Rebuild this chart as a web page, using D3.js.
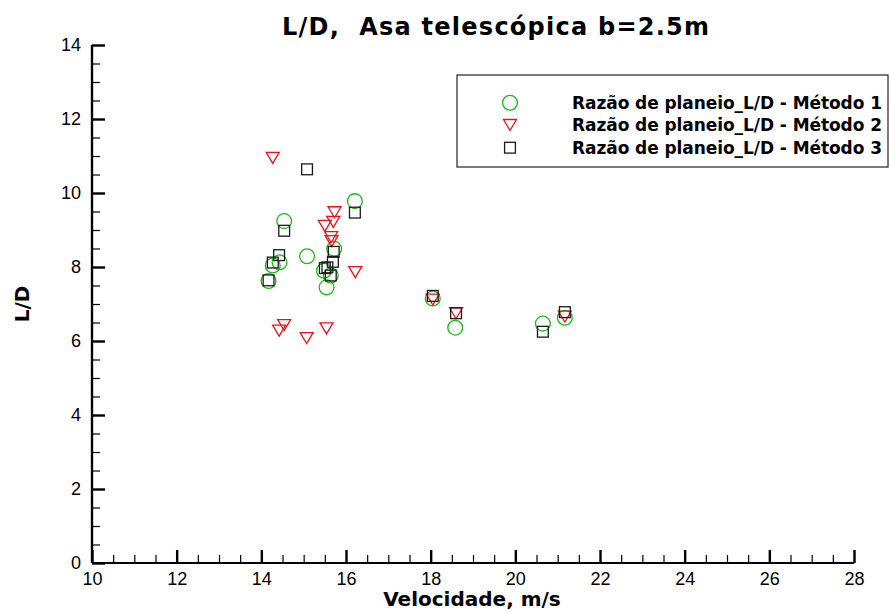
<!DOCTYPE html>
<html>
<head>
<meta charset="utf-8">
<script src="https://cdn.jsdelivr.net/npm/d3@7/dist/d3.min.js"></script>
<style>
  html, body { margin: 0; padding: 0; background: #fff; }
  svg { display: block; }
</style>
</head>
<body>
<svg id="chart" width="890" height="613"></svg>
<script>
// Lift-to-drag ratio vs. airspeed, three estimation methods
const velocityM1 = [14.17, 14.27, 14.43, 14.54, 15.08, 15.48, 15.54, 15.64, 15.72, 16.21, 18.05, 18.58, 20.65, 21.17];
const ldM1       = [7.62, 8.04, 8.13, 9.24, 8.29, 7.90, 7.45, 7.77, 8.49, 9.78, 7.15, 6.36, 6.47, 6.63];

const velocityM2 = [14.27, 14.54, 14.42, 15.07, 15.54, 15.50, 15.73, 15.70, 15.65, 15.66, 16.22, 18.05, 18.60, 21.17];
const ldM2       = [10.95, 6.43, 6.28, 6.08, 6.34, 9.11, 9.48, 9.22, 8.81, 8.70, 7.86, 7.12, 6.75, 6.66];

const velocityM3 = [14.17, 14.27, 14.42, 14.54, 15.08, 15.50, 15.56, 15.64, 15.69, 15.71, 16.21, 18.05, 18.60, 20.65, 21.17];
const ldM3       = [7.64, 8.12, 8.32, 8.98, 10.64, 7.97, 7.99, 7.77, 8.14, 8.41, 9.47, 7.22, 6.75, 6.25, 6.78];

const seriesNames = ["Razão de planeio_L/D - Método 1", "Razão de planeio_L/D - Método 2", "Razão de planeio_L/D - Método 3"];
const xTicks = [10, 12, 14, 16, 18, 20, 22, 24, 26, 28];
const yTicks = [0, 2, 4, 6, 8, 10, 12, 14];

const svg = d3.select("#chart");
const x = d3.scaleLinear().domain([10, 28]).range([92, 854]);
const y = d3.scaleLinear().domain([0, 14]).range([563, 45]);

const GREEN = "#1fb51f", RED = "#e3141c", BLACK = "#1a1a1a";
const LABEL_FONT = "DejaVu Sans, Verdana, sans-serif";
const TICK_FONT = "Liberation Sans, Arial, sans-serif";

// Axes: ticks point into the plot area, minor ticks every 0.5
const xMinor = d3.range(10, 28.001, 0.5).filter(v => !xTicks.includes(v));
const yMinor = d3.range(0, 14.001, 0.5).filter(v => !yTicks.includes(v));

const gx = svg.append("g").attr("transform", `translate(0,${y(0)})`);
gx.call(d3.axisBottom(x).tickValues(xTicks).tickSize(-13).tickPadding(9).tickFormat(d3.format("d")));
gx.append("g").call(d3.axisBottom(x).tickValues(xMinor).tickSize(-8).tickFormat(""));
gx.selectAll(".domain").attr("stroke", "#000").attr("stroke-width", 2.2).attr("d", `M${x(10)},0H${x(28)}`);
gx.selectAll(".tick line").attr("stroke", "#000").attr("stroke-width", 1.2);
gx.selectAll(":scope > .tick line").attr("stroke-width", 2.4);
gx.selectAll("text").attr("font-family", TICK_FONT).attr("font-size", 18).attr("fill", "#000");

const gy = svg.append("g").attr("transform", `translate(${x(10)},0)`);
gy.call(d3.axisLeft(y).tickValues(yTicks).tickSize(-13).tickPadding(11).tickFormat(d3.format("d")));
gy.append("g").call(d3.axisLeft(y).tickValues(yMinor).tickSize(-8).tickFormat(""));
gy.selectAll(".domain").attr("stroke", "#000").attr("stroke-width", 2.2).attr("d", `M0,${y(14)}V${y(0)}`);
gy.selectAll(".tick line").attr("stroke", "#000").attr("stroke-width", 1.2);
gy.selectAll(":scope > .tick line").attr("stroke-width", 2.4);
gy.selectAll("text").attr("font-family", TICK_FONT).attr("font-size", 18).attr("fill", "#000");

// Marker shapes
const tri = "M-6.5,-5.5L6.5,-5.5L0,5.5Z";
function drawCircles(g, xs, ys) {
  g.selectAll("circle").data(xs.map((v, i) => [v, ys[i]])).join("circle")
    .attr("cx", d => x(d[0])).attr("cy", d => y(d[1])).attr("r", 7.4)
    .attr("fill", "none").attr("stroke", GREEN).attr("stroke-width", 1.3);
}
function drawTriangles(g, xs, ys) {
  g.selectAll("path").data(xs.map((v, i) => [v, ys[i]])).join("path")
    .attr("d", tri).attr("transform", d => `translate(${x(d[0])},${y(d[1])})`)
    .attr("fill", "none").attr("stroke", RED).attr("stroke-width", 1.3);
}
function drawSquares(g, xs, ys) {
  g.selectAll("rect").data(xs.map((v, i) => [v, ys[i]])).join("rect")
    .attr("x", d => x(d[0]) - 5.4).attr("y", d => y(d[1]) - 5.4).attr("width", 10.8).attr("height", 10.8)
    .attr("fill", "none").attr("stroke", BLACK).attr("stroke-width", 1.3);
}

drawCircles(svg.append("g"), velocityM1, ldM1);
drawTriangles(svg.append("g"), velocityM2, ldM2);
drawSquares(svg.append("g"), velocityM3, ldM3);

// Title and axis labels
svg.append("text").attr("x", 495.5).attr("y", 35).attr("text-anchor", "middle")
  .attr("font-family", LABEL_FONT).attr("font-weight", "bold").attr("font-size", 24)
  .attr("textLength", 427).attr("lengthAdjust", "spacing")
  .style("white-space", "pre")
  .text("L/D,  Asa telescópica b=2.5m");
svg.append("text").attr("x", 472).attr("y", 606).attr("text-anchor", "middle")
  .attr("font-family", LABEL_FONT).attr("font-weight", "bold").attr("font-size", 20)
  .text("Velocidade, m/s");
svg.append("text").attr("transform", `translate(29,304) rotate(-90)`).attr("text-anchor", "middle")
  .attr("font-family", LABEL_FONT).attr("font-weight", "bold").attr("font-size", 20)
  .text("L/D");

// Legend
const lg = svg.append("g");
lg.append("rect").attr("x", 457).attr("y", 75).attr("width", 431).attr("height", 92)
  .attr("fill", "#fff").attr("stroke", "#222").attr("stroke-width", 1.2);
const rowY = [102.7, 125, 147.7];
const lx = 510;
lg.append("circle").attr("cx", lx).attr("cy", rowY[0]).attr("r", 7.4).attr("fill", "none").attr("stroke", GREEN).attr("stroke-width", 1.3);
lg.append("path").attr("d", tri).attr("transform", `translate(${lx},${rowY[1]})`).attr("fill", "none").attr("stroke", RED).attr("stroke-width", 1.3);
lg.append("rect").attr("x", lx - 5.4).attr("y", rowY[2] - 5.4).attr("width", 10.8).attr("height", 10.8).attr("fill", "none").attr("stroke", BLACK).attr("stroke-width", 1.3);
lg.selectAll("text.lab").data(seriesNames).join("text").attr("class", "lab")
  .attr("x", 572).attr("y", (d, i) => rowY[i]).attr("dy", "0.36em")
  .attr("font-family", LABEL_FONT).attr("font-weight", "bold").attr("font-size", 17)
  .attr("textLength", 310).attr("lengthAdjust", "spacing")
  .attr("fill", "#000").text(d => d);
</script>
</body>
</html>
